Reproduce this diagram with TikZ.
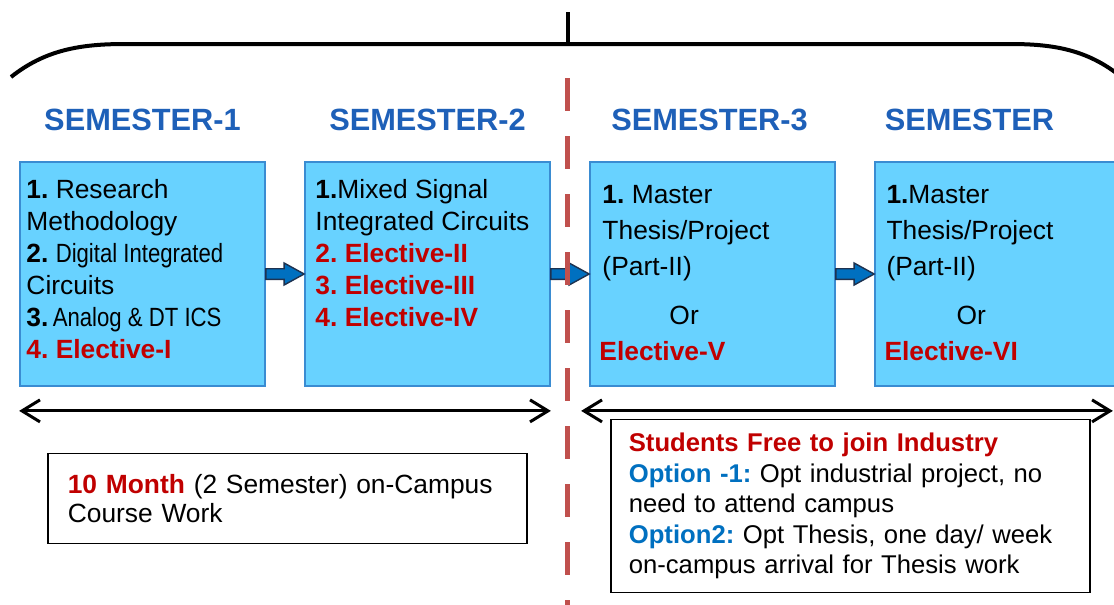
\documentclass[tikz,border=0pt]{standalone}
\usepackage{fontspec}
\setmainfont{Liberation Sans}
\newfontfamily\narrowfont[FakeStretch=0.84]{Liberation Sans}
\usetikzlibrary{calc, arrows.meta, positioning}
\frenchspacing

\definecolor{semblue}{RGB}{30,96,184}
\definecolor{optblue}{RGB}{0,112,192}
\definecolor{elecred}{RGB}{192,0,0}
\definecolor{boxfill}{RGB}{104,210,255}
\definecolor{boxline}{RGB}{58,140,210}
\definecolor{arrline}{RGB}{30,50,80}
\definecolor{splitred}{RGB}{192,80,77}

% block arrow from the east side of #1 to the west side of #2
\newcommand{\blockarrow}[2]{%
\draw[blockarr] ($(#1.east)+(0,0.106)$) -- ($(#2.west)+(-0.4,0.106)$) -- ($(#2.west)+(-0.4,0.22)$) -- (#2.west)
  -- ($(#2.west)+(-0.4,-0.22)$) -- ($(#2.west)+(-0.4,-0.106)$) -- ($(#1.east)+(0,-0.106)$) -- cycle;}

\begin{document}
\begin{tikzpicture}[
  sembox/.style={draw=boxline, line width=1pt, fill=boxfill, minimum width=4.9cm, minimum height=4.48cm, inner sep=0},
  semtitle/.style={text=semblue, inner sep=0, font=\bfseries\fontsize{17.5}{21}\selectfont},
  boxtext/.style={align=left, inner sep=0, anchor=north west, font=\fontsize{15}{18.2}\selectfont},
  thesistext/.style={boxtext, font=\fontsize{15}{20.4}\selectfont},
  notebox/.style={draw, line width=0.8pt, fill=white, align=left, inner xsep=0.36cm, anchor=north west, font=\fontsize{15}{17.5}\selectfont},
  blockarr/.style={fill=optblue, draw=arrline, line width=0.8pt},
  span/.style={line width=0.06cm, {Straight Barb[length=0.36cm,width=0.44cm]}-{Straight Barb[length=0.36cm,width=0.44cm]}}
]
\useasboundingbox (0,0) rectangle (22.28,-12.08);

% top brace
\draw[line width=0.08cm] (0.22,-1.54) .. controls (0.9,-1.0) and (1.6,-0.88) .. (2.5,-0.88) -- (20.2,-0.88)
  .. controls (21.1,-0.88) and (21.8,-1.0) .. (22.5,-1.6);
\draw[line width=0.07cm] (11.36,-0.24) -- (11.36,-0.88);

% semester boxes
\node[sembox] (b1) at (2.85,-5.48) {};
\node[sembox, right=0.765cm of b1] (b2) {};
\node[sembox, right=0.765cm of b2] (b3) {};
\node[sembox, right=0.765cm of b3] (b4) {};

\node[semtitle, above=0.6cm of b1] (s1) {SEMESTER-1};
\node[semtitle, above=0.6cm of b2] (s2) {SEMESTER-2};
\node[semtitle, above=0.6cm of b3, xshift=-0.06cm] (s3) {SEMESTER-3};
\node[semtitle, above=0.6cm of b4, xshift=-0.56cm] (s4) {SEMESTER};

\node[boxtext] (t1) at ($(b1.north west)+(0.14,-0.36)$) {\textbf{1.} Research\\Methodology\\\textbf{2.} {\narrowfont Digital Integrated}\\Circuits\\\textbf{3.}\,{\narrowfont Analog \& DT ICS}\\\textcolor{elecred}{\textbf{4. Elective-I}}};
\node[boxtext] (t2) at ($(b2.north west)+(0.22,-0.36)$) {\textbf{1.}Mixed Signal\\Integrated Circuits\\\textcolor{elecred}{\textbf{2. Elective-II}}\\\textcolor{elecred}{\textbf{3. Elective-III}}\\\textcolor{elecred}{\textbf{4. Elective-IV}}};
\node[thesistext] (t3) at ($(b3.north west)+(0.26,-0.475)$) {\textbf{1.} Master\\Thesis/Project\\(Part-II)\\[0.28cm]\hspace*{1.34cm}Or\\\hspace*{-0.06cm}\textcolor{elecred}{\textbf{Elective-V}}};
\node[thesistext] (t4) at ($(b4.north west)+(0.24,-0.475)$) {\textbf{1.}Master\\Thesis/Project\\(Part-II)\\[0.28cm]\hspace*{1.4cm}Or\\\hspace*{-0.04cm}\textcolor{elecred}{\textbf{Elective-VI}}};

% arrows between semesters
\blockarrow{b1}{b2}
\blockarrow{b2}{b3}
\blockarrow{b3}{b4}

% on-campus / industry split
\coordinate (cut top) at (11.34,-1.56);
\coordinate (cut bot) at (11.34,-12.2);
\draw[splitred, line width=0.1cm, dash pattern=on 0.66cm off 0.5cm] (cut top) -- (cut bot);

% duration spans
\draw[span] ($(b1.south west)+(0,-0.48)$) -- ($(b2.south east)+(0,-0.48)$);
\draw[span] ($(b3.south west)+(-0.16,-0.48)$) -- ($(b4.south east)+(-0.16,-0.48)$);

% notes
\node[notebox, text width=8.78cm, minimum height=1.8cm, inner xsep=0.4cm, below right=1.32cm and 0.56cm of b1.south west,
  font=\fontsize{15}{16.8}\selectfont] (n1)
  {\textcolor{elecred}{\textbf{10 Month}} (2 Semester) on-Campus\\Course Work\\[0.2cm]};
\node[notebox, text width=8.86cm, minimum height=3.46cm, below right=0.64cm and 0.42cm of b3.south west,
  font=\fontsize{14.6}{17.4}\selectfont] (n2)
  {\textcolor{elecred}{\textbf{Students Free to join Industry}}\\\textcolor{optblue}{\textbf{Option -1:}} Opt industrial project, no\\need to attend campus\\\textcolor{optblue}{\textbf{Option2:}} Opt Thesis, one day/ week\\on-campus arrival for Thesis work};
\end{tikzpicture}
\end{document}
